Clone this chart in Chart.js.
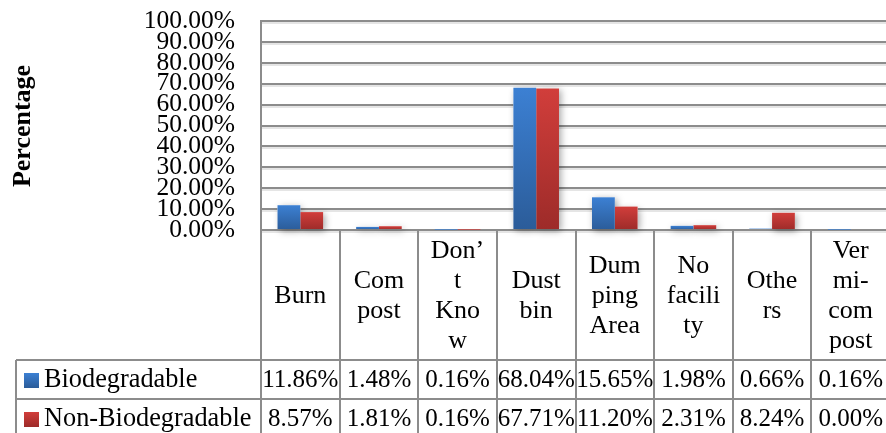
<!DOCTYPE html>
<html>
<head>
<meta charset="utf-8">
<script src="https://cdn.jsdelivr.net/npm/chart.js@4/dist/chart.umd.min.js"></script>
<style>
  html, body { margin: 0; padding: 0; overflow: hidden; background: #ffffff; }
  #wrap { width: 892px; height: 433px; position: relative; }
  canvas { display: block; }
</style>
</head>
<body>
<div id="wrap"><canvas id="chart" width="892" height="433" style="width:892px;height:433px"></canvas></div>
<script>
// Waste disposal methods, share of households (%)
const categories = ['Burn', 'Compost', 'Don\u2019t Know', 'Dust bin', 'Dumping Area', 'No facility', 'Others', 'Vermi-compost'];
// Wrapped header text as it appears in the table cells
const headerLines = [
  ['Burn'],
  ['Com', 'post'],
  ['Don\u2019', 't', 'Kno', 'w'],
  ['Dust', 'bin'],
  ['Dum', 'ping', 'Area'],
  ['No', 'facili', 'ty'],
  ['Othe', 'rs'],
  ['Ver', 'mi-', 'com', 'post']
];
const seriesNames = ['Biodegradable', 'Non-Biodegradable'];
const biodegradable = [11.86, 1.48, 0.16, 68.04, 15.65, 1.98, 0.66, 0.16];
const nonBiodegradable = [8.57, 1.81, 0.16, 67.71, 11.20, 2.31, 8.24, 0.00];
const yMin = 0;
const yMax = 100;
const yStep = 10;
const yTitle = 'Percentage';

const FONT = '"Liberation Serif", "Times New Roman", serif';
const GRID = '#8c8c8c';
const BLUE = ['#3c80d3', '#2b5c99'];
const RED = ['#d13e3b', '#9d2b29'];

// Vertical gradient spanning each bar from its top to the zero line
function barFill(stops) {
  return (ctx) => {
    const chart = ctx.chart;
    const y = chart.scales && chart.scales.y;
    if (!y || ctx.type !== 'data' || y.height <= 0) return stops[0];
    const yt = y.getPixelForValue(ctx.raw);
    const yb = y.getPixelForValue(0);
    if (!(yb - yt > 0.5)) return stops[0];
    const g = chart.ctx.createLinearGradient(0, yt, 0, yb);
    g.addColorStop(0, stops[0]);
    g.addColorStop(1, stops[1]);
    return g;
  };
}

// Soft drop shadow behind bars and a faint halo under the gridlines
const shadowPlugin = {
  id: 'barShadow',
  beforeDatasetsDraw(chart) {
    const ctx = chart.ctx;
    const y = chart.scales.y;
    const area = chart.chartArea;
    ctx.save();
    ctx.strokeStyle = 'rgba(0,0,0,0.10)';
    ctx.lineWidth = 2;
    y.ticks.forEach(t => {
      const py = Math.round(y.getPixelForValue(t.value)) + 2;
      ctx.beginPath();
      ctx.moveTo(area.left + 1, py);
      ctx.lineTo(area.right, py);
      ctx.stroke();
    });
    ctx.restore();

    ctx.save();
    ctx.shadowColor = 'rgba(0,0,0,0.35)';
    ctx.shadowBlur = 7;
    ctx.shadowOffsetX = 2;
    ctx.shadowOffsetY = 2;
    ctx.fillStyle = '#ffffff';
    chart.data.datasets.forEach((ds, di) => {
      chart.getDatasetMeta(di).data.forEach(bar => {
        const h = bar.base - bar.y;
        if (h > 0.5) ctx.fillRect(bar.x - bar.width / 2, bar.y, bar.width, h);
      });
    });
    ctx.restore();
  }
};

// Data table under the plot: wrapped category headers, legend keys and values
const tablePlugin = {
  id: 'dataTable',
  afterDraw(chart) {
    const ctx = chart.ctx;
    const area = chart.chartArea;
    const n = categories.length;
    const colW = (area.right - area.left) / n;
    const top = area.bottom;
    const headerBottom = top + 130;
    const rowH = 39;
    const legendLeft = 16;
    const tableBottom = chart.height + 10;

    ctx.save();
    ctx.strokeStyle = GRID;
    ctx.lineWidth = 2;
    // column borders
    for (let k = 0; k <= n; k++) {
      const x = Math.round(area.left + k * colW);
      ctx.beginPath();
      ctx.moveTo(x, top);
      ctx.lineTo(x, tableBottom);
      ctx.stroke();
    }
    // row borders
    for (let r = 0; r < seriesNames.length; r++) {
      const y = Math.round(headerBottom + r * rowH);
      ctx.beginPath();
      ctx.moveTo(legendLeft, y);
      ctx.lineTo(area.right, y);
      ctx.stroke();
    }
    // legend column left border
    ctx.beginPath();
    ctx.moveTo(legendLeft, headerBottom);
    ctx.lineTo(legendLeft, tableBottom);
    ctx.stroke();

    ctx.fillStyle = '#000000';
    ctx.textAlign = 'center';
    ctx.textBaseline = 'middle';
    // header cells
    ctx.font = '26px ' + FONT;
    const lineH = 30;
    headerLines.forEach((lines, i) => {
      const cx = area.left + (i + 0.5) * colW;
      const cy = top + 65;
      const y0 = cy - (lines.length - 1) * lineH / 2;
      lines.forEach((t, j) => ctx.fillText(t, cx, y0 + j * lineH + 1));
    });

    // value rows
    const rows = [biodegradable, nonBiodegradable];
    const keys = [BLUE, RED];
    rows.forEach((vals, r) => {
      const cy = headerBottom + r * rowH + rowH / 2 + 1;
      ctx.font = '25px ' + FONT;
      ctx.textAlign = 'center';
      vals.forEach((v, i) => {
        const cx = area.left + (i + 0.5) * colW;
        ctx.fillText(v.toFixed(2) + '%', cx, cy);
      });
      // legend key
      const ky = Math.round(cy - 8);
      const g = ctx.createLinearGradient(0, ky, 0, ky + 15);
      g.addColorStop(0, keys[r][0]);
      g.addColorStop(1, keys[r][1]);
      ctx.fillStyle = g;
      ctx.fillRect(24, ky, 15, 15);
      ctx.fillStyle = '#000000';
      ctx.textAlign = 'left';
      ctx.font = '26.3px ' + FONT;
      ctx.fillText(seriesNames[r], 44, cy);
    });

    // y-axis title
    ctx.save();
    ctx.font = 'bold 26px ' + FONT;
    ctx.textAlign = 'center';
    ctx.textBaseline = 'middle';
    ctx.translate(23, 126);
    ctx.rotate(-Math.PI / 2);
    ctx.fillText(yTitle, 0, 0);
    ctx.restore();

    ctx.restore();
  }
};

new Chart(document.getElementById('chart'), {
  type: 'bar',
  data: {
    labels: categories,
    datasets: [
      { label: seriesNames[0], data: biodegradable, backgroundColor: barFill(BLUE), borderWidth: 0 },
      { label: seriesNames[1], data: nonBiodegradable, backgroundColor: barFill(RED), borderWidth: 0 }
    ]
  },
  options: {
    responsive: false,
    devicePixelRatio: 1,
    animation: false,
    layout: { padding: { top: 21, right: 2, bottom: 203, left: 0 } },
    plugins: { legend: { display: false }, tooltip: { enabled: false }, title: { display: false } },
    datasets: { bar: { categoryPercentage: 0.58, barPercentage: 1.0 } },
    scales: {
      x: { display: false },
      y: {
        min: yMin,
        max: yMax,
        bounds: 'data',
        afterFit(scale) {
          scale.width = 261;
          scale.paddingTop = 0;
          scale.paddingBottom = 0;
        },
        ticks: {
          stepSize: yStep,
          autoSkip: false,
          maxTicksLimit: 20,
          padding: 26,
          color: '#000000',
          font: { family: FONT, size: 25.5, lineHeight: 1 },
          callback: v => Number(v).toFixed(2) + '%'
        },
        grid: { color: GRID, lineWidth: 2, drawTicks: false },
        border: { display: true, color: GRID, width: 2 }
      }
    }
  },
  plugins: [shadowPlugin, tablePlugin]
});
</script>
</body>
</html>
